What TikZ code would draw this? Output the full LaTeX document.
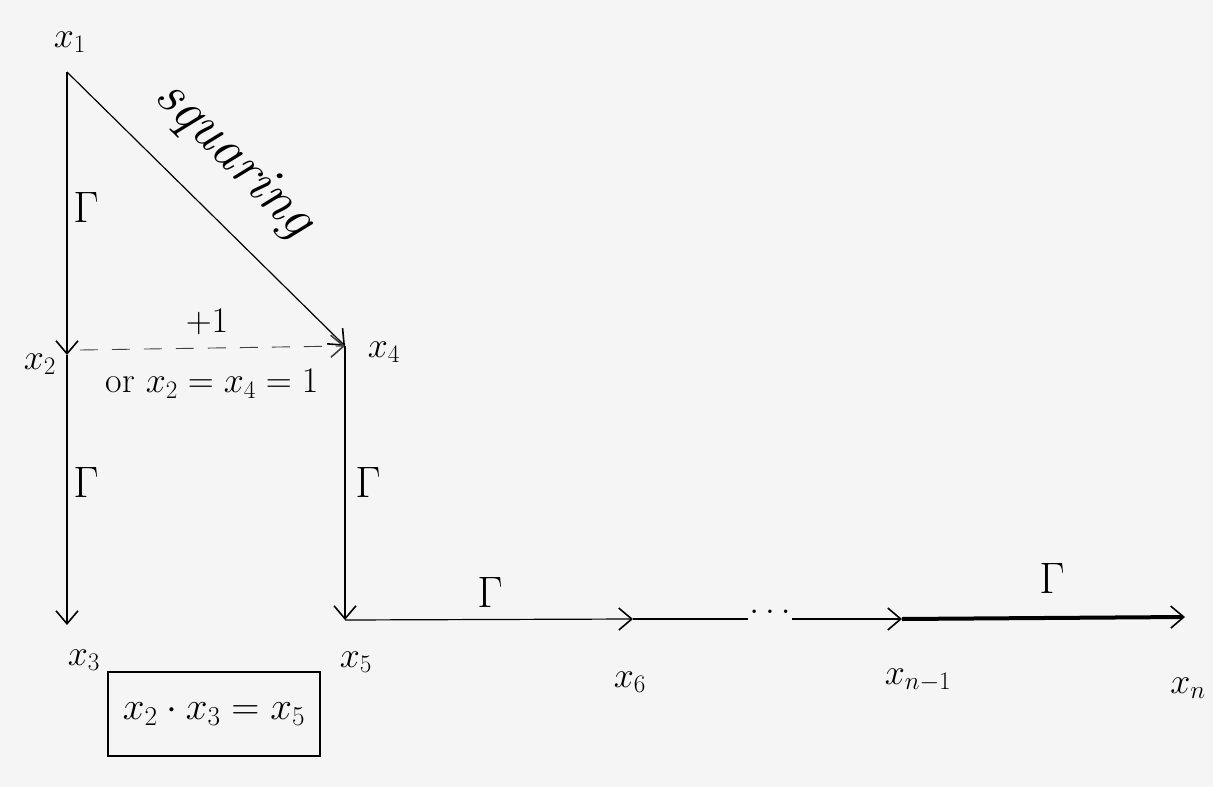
\RequirePackage{fix-cm}
\documentclass[tikz,border=0pt]{standalone}
\usetikzlibrary{arrows.meta}
\begin{document}
\begin{tikzpicture}[x=1pt,y=-1pt,
  lab/.style={inner sep=1pt,font=\fontsize{36}{40}\selectfont},
  glab/.style={inner sep=1pt,font=\fontsize{44}{48}\selectfont},
  conn/.style={line width=1.2pt,-{Straight Barb[length=13pt,width=22pt,line width=1.6pt]}},
  plain/.style={line width=1.2pt}]
\fill[gray!8] (0,0) rectangle (1213,787);
\useasboundingbox (0,0) rectangle (1213,787);
% points
\coordinate (p1) at (67,72);
\coordinate (p2) at (67,355);
\coordinate (p3) at (67,625);
\coordinate (p4) at (345,346);
\coordinate (p5) at (345,620);
\coordinate (p6) at (633,619);
\coordinate (p7) at (902,619);
\coordinate (pn) at (1185,617);
\coordinate (q2) at (80,350);
% labels
\node[lab] (l1) at (70,42) {$x_1$};
\node[lab] (l2) at (40,364) {$x_2$};
\node[lab] (l3) at (84,660) {$x_3$};
\node[lab] (l4) at (384,352) {$x_4$};
\node[lab] (l5) at (356,662) {$x_5$};
\node[lab] (l6) at (630,682) {$x_6$};
\node[lab] (l7) at (918,680) {$x_{n-1}$};
\node[lab] (ln) at (1188,688) {$x_n$};
\node[glab] (g1) at (86,207) {$\Gamma$};
\node[glab] (g2) at (86,482) {$\Gamma$};
\node[glab] (g3) at (368,482) {$\Gamma$};
\node[glab] (g4) at (490,592) {$\Gamma$};
\node[glab] (g5) at (1052,578) {$\Gamma$};
\node[lab] (plus) at (207,322) {$+1$};
\node[lab] (or) at (212,384) {or $x_2=x_4=1$};
\node[lab,draw,line width=1.3pt,minimum width=212pt,minimum height=84pt,font=\fontsize{39}{42}\selectfont] (box) at (214,714) {$x_2\cdot x_3=x_5$};
\node[lab] (dots) at (770,612) {$\dots$};
\node[inner sep=0pt,rotate=-44.5,font=\fontsize{56}{60}\selectfont\itshape] (sq) at (234,160) {squaring};
% connectors
\draw[conn] (p1) -- (p2);
\draw[conn] (p1) -- (p4);
\draw[conn,dash pattern=on 18pt off 14pt,line width=0.9pt,black!75] (q2) -- (p4);
\draw[conn] (p2) -- (p3);
\draw[conn] (p4) -- (p5);
\draw[conn] (p5) -- (p6);
\draw[plain] (p6) -- (dots.west |- p6);
\draw[conn] (dots.east |- p7) -- (p7);
\draw[conn,line width=4pt] (p7) -- (pn);
\end{tikzpicture}
\end{document}
